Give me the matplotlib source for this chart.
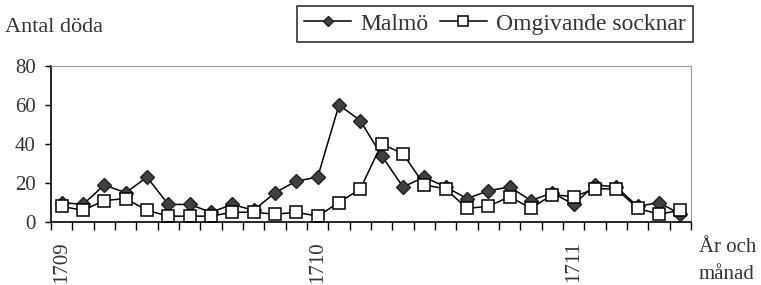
import numpy as np
import matplotlib.pyplot as plt

# monthly deaths, Jan 1709 - Jun 1711
malmo = [10, 9, 19, 15, 23, 9, 9, 5, 9, 6, 15, 21, 23, 60, 52,
         34, 18, 23, 18, 12, 16, 18, 11, 15, 9, 19, 18, 8, 10, 4]
socknar = [8, 6, 11, 12, 6, 3, 3, 3, 5, 5, 4, 5, 3, 10, 17,
           40, 35, 19, 17, 7, 8, 13, 7, 14, 13, 17, 17, 7, 4, 6]
years = ['1709', '1710', '1711']

plt.rcParams['font.family'] = ['Liberation Serif', 'DejaVu Serif']
txt = '#333333'

fig = plt.figure(figsize=(7.61, 2.85), dpi=100)
ax = fig.add_axes([51/761, 1 - 222/285, 640/761, 156/285])

x = np.arange(len(malmo))
ax.plot(x, malmo, color='black', lw=1.1, marker='D', ms=7,
        mfc='#404040', mec='#202020', label='Malmö')
ax.plot(x, socknar, color='black', lw=1.1, marker='s', ms=9,
        mfc='white', mec='black', mew=1.1, label='Omgivande socknar')

ax.set_xlim(-0.5, len(malmo) - 0.5)
ax.set_ylim(0, 80)
ax.set_yticks([0, 20, 40, 60, 80])
ax.tick_params(axis='y', labelsize=15, length=4, width=1, color='black', labelcolor=txt, pad=7)

ax.set_xticks(np.arange(0, len(malmo), 12))
ax.set_xticklabels(years, rotation=90, fontsize=15, color=txt)
ax.set_xticks(np.arange(-0.5, len(malmo), 1), minor=True)
ax.tick_params(axis='x', which='major', length=0, pad=14)
ax.tick_params(axis='x', which='minor', length=6, width=1, color='black')

for s in ['top', 'right']:
    ax.spines[s].set_color('#999999')
    ax.spines[s].set_linewidth(0.8)
for s in ['left', 'bottom']:
    ax.spines[s].set_color('black')
    ax.spines[s].set_linewidth(1.2)

fig.text(5/761, 1 - 32/285, 'Antal döda', fontsize=16, color=txt)
fig.text(699/761, 1 - 252/285, 'År och', fontsize=15, color=txt)
fig.text(699/761, 1 - 279/285, 'månad', fontsize=15, color=txt)

leg = fig.legend(loc='upper right', bbox_to_anchor=(693/761, 1 - 6/285), ncol=2,
                 fontsize=17, frameon=True, fancybox=False, handlelength=2.0,
                 columnspacing=0.45, handletextpad=0.4, borderpad=0.3,
                 borderaxespad=0, markerscale=0.75)
leg.get_frame().set_edgecolor('black')
leg.get_frame().set_linewidth(1.2)
for t in leg.get_texts():
    t.set_color(txt)

fig.savefig('out.png', dpi=100)
